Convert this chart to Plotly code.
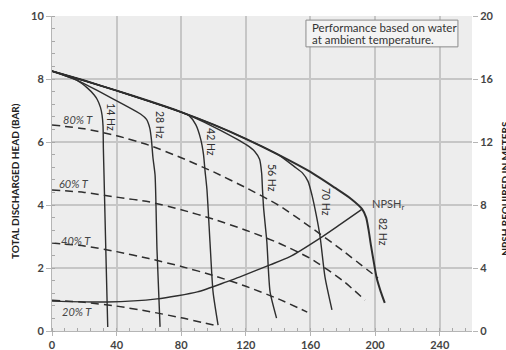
import plotly.graph_objects as go

# Flow (x) / head in bar (y) for each drive frequency
hz14_x = [0, 16, 22, 26, 28, 30, 31, 31.6, 31.8, 32.2, 33.3, 34.5]
hz14_y = [8.25, 7.94, 7.71, 7.5, 7.35, 7.1, 6.85, 6.5, 5.8, 4.95, 2.6, 0.13]

hz28_x = [0, 16, 30, 45, 55, 58.5, 60.5, 61.5, 62.5, 63.8, 65, 66.9]
hz28_y = [8.25, 7.95, 7.58, 7.17, 6.88, 6.72, 6.45, 6.1, 5.5, 4.95, 2.57, 0.13]

hz42_x = [0, 20, 40, 60, 80, 85, 89, 92, 93.8, 94.7, 95.9, 97.8, 99.7, 102.8]
hz42_y = [8.25, 7.95, 7.63, 7.3, 6.95, 6.83, 6.55, 6.1, 5.6, 5.1, 4.5, 2.83, 1.24, 0.19]

hz56_x = [0, 20, 40, 60, 80, 85.4, 104, 120.7, 125.5, 128.5, 129.8, 130.3, 131, 133, 135, 139]
hz56_y = [8.25, 7.95, 7.63, 7.3, 6.95, 6.84, 6.38, 5.9, 5.7, 5.45, 5.0, 4.5, 3.9, 2.83, 1.24, 0.41]

hz70_x = [0, 20, 40, 60, 80, 100, 120, 140, 150, 155, 158.5, 161, 163.5, 166, 169, 173.3]
hz70_y = [8.25, 7.95, 7.63, 7.3, 6.95, 6.55, 6.1, 5.6, 5.22, 5.02, 4.75, 4.3, 3.7, 2.98, 1.71, 0.67]

hz82_x = [0, 20, 40, 60, 80, 100, 120, 140, 160, 175, 185, 192, 194.5, 196, 197.5, 199.5, 201, 203.5, 206]
hz82_y = [8.25, 7.95, 7.63, 7.3, 6.95, 6.55, 6.1, 5.6, 5.05, 4.55, 4.2, 3.87, 3.6, 3.2, 2.7, 2.1, 1.68, 1.25, 0.89]

# Constant-torque lines (% of rated torque)
t80_x = [0, 20, 40, 60, 80, 100, 120, 140, 160, 180, 201.8]
t80_y = [6.54, 6.42, 6.2, 5.9, 5.5, 5.05, 4.55, 4.0, 3.3, 2.55, 1.68]

t60_x = [0, 20, 40, 60, 80, 100, 120, 140, 160, 180, 193.8]
t60_y = [4.48, 4.4, 4.25, 4.1, 3.85, 3.55, 3.2, 2.8, 2.3, 1.6, 0.98]

t40_x = [0, 20, 40, 60, 80, 100, 120, 140, 158]
t40_y = [2.79, 2.7, 2.52, 2.3, 2.05, 1.76, 1.42, 1.02, 0.6]

t20_x = [0, 20, 40, 60, 80, 100]
t20_y = [0.98, 0.91, 0.79, 0.62, 0.42, 0.19]

# NPSH required, metres (right axis)
npsh_x = [0, 34, 65, 90, 108, 116, 135, 147, 166, 178, 192]
npsh_m = [1.9, 1.84, 2.04, 2.48, 3.12, 3.42, 4.2, 4.7, 5.9, 6.74, 7.74]

x_ticks = [0, 40, 80, 120, 160, 200, 240]
y_ticks = [0, 2, 4, 6, 8, 10]
y2_ticks = [0, 4, 8, 12, 16, 20]

note_lines = ["Performance based on water", "at ambient temperature."]

INK = "#2e2e2e"
FONT = "Lato"

fig = go.Figure()

hz_curves = [
    (hz14_x, hz14_y, 1.4), (hz28_x, hz28_y, 1.4), (hz42_x, hz42_y, 1.4),
    (hz56_x, hz56_y, 1.4), (hz70_x, hz70_y, 1.4), (hz82_x, hz82_y, 2.0),
]
for cx, cy, w in hz_curves:
    fig.add_trace(go.Scatter(x=cx, y=cy, mode="lines",
                             line=dict(color=INK, width=w, shape="spline", smoothing=0.6),
                             hoverinfo="skip", showlegend=False))

for cx, cy in [(t80_x, t80_y), (t60_x, t60_y), (t40_x, t40_y), (t20_x, t20_y)]:
    fig.add_trace(go.Scatter(x=cx, y=cy, mode="lines",
                             line=dict(color=INK, width=1.5, dash="8px,5px",
                                       shape="spline", smoothing=0.6),
                             hoverinfo="skip", showlegend=False))

fig.add_trace(go.Scatter(x=npsh_x, y=npsh_m, yaxis="y2", mode="lines",
                         line=dict(color=INK, width=1.4, shape="spline", smoothing=0.6),
                         hoverinfo="skip", showlegend=False))

annotations = []
# frequency labels, rotated
hz_labels = [("14 Hz", 36.5, 6.79), ("28 Hz", 66.9, 6.54), ("42 Hz", 98.4, 6.0),
             ("56 Hz", 136.2, 4.86), ("70 Hz", 169.6, 4.1), ("82 Hz", 205.0, 3.14)]
for txt, lx, ly in hz_labels:
    annotations.append(dict(x=lx, y=ly, text=txt, showarrow=False, textangle=90,
                            font=dict(family=FONT, size=10.5, color=INK)))

t_labels = [("80% T", 16, 6.7), ("60% T", 13.6, 4.67), ("40% T", 14.9, 2.86), ("20% T", 15.5, 0.63)]
for txt, lx, ly in t_labels:
    annotations.append(dict(x=lx, y=ly, text="<i>" + txt + "</i>", showarrow=False,
                            font=dict(family=FONT, size=11, color="#444")))

annotations.append(dict(x=196.8, y=4.03, xanchor="left", text="NPSH<sub>r</sub>",
                        showarrow=False, font=dict(family=FONT, size=11, color="#444")))

# note box: frame drawn as a shape, two text lines inside
for line_txt, ly in zip(note_lines, [9.63, 9.25]):
    annotations.append(dict(x=160.0, y=ly, xanchor="left", text=line_txt, showarrow=False,
                            font=dict(family=FONT, size=11.5, color="#333")))

annotations.append(dict(xref="paper", yref="paper", x=-0.088, y=0.476, xanchor="center",
                        text="<b>TOTAL DISCHARGED HEAD (BAR)</b>", textangle=-90,
                        showarrow=False, font=dict(family=FONT, size=10, color="#222")))
annotations.append(dict(xref="paper", yref="paper", x=1.078, y=0.454, xanchor="center",
                        text="<b>NPSH REQUIRED IN METERS</b>", textangle=-90,
                        showarrow=False, font=dict(family=FONT, size=10, color="#222")))

fig.add_shape(type="rect", x0=157.2, x1=251.3, y0=9.02, y1=9.87,
              line=dict(color="#8c8c8c", width=1), fillcolor="#f3f3f3", layer="above")

tick_font = dict(family=FONT, size=11, color="#444", weight="bold")

fig.update_layout(
    width=506, height=350,
    margin=dict(l=52, r=34, t=16, b=19),
    paper_bgcolor="white", plot_bgcolor="#ededed",
    annotations=annotations,
    xaxis=dict(range=[0, 260], tickvals=x_ticks, showgrid=True, gridcolor="#c6c6c6",
               gridwidth=1.5, zeroline=False, showline=True, linecolor="#b5b5b5",
               ticks="outside", ticklen=4, tickcolor="#b5b5b5", automargin=False,
               tickfont=tick_font,
               minor=dict(dtick=8, ticks="inside", ticklen=3, tickcolor="#a8a8a8", showgrid=False)),
    yaxis=dict(range=[0, 10], tickvals=y_ticks, showgrid=True, gridcolor="#c6c6c6",
               gridwidth=1.5, zeroline=False, showline=True, linecolor="#b5b5b5",
               ticks="outside", ticklen=5, tickcolor="#b5b5b5", automargin=False,
               tickfont=tick_font,
               minor=dict(dtick=0.4, ticks="inside", ticklen=3, tickcolor="#a8a8a8", showgrid=False)),
    yaxis2=dict(range=[0, 20], tickvals=y2_ticks, overlaying="y", side="right",
                showgrid=False, zeroline=False, showline=False, automargin=False,
                ticks="outside", ticklen=5, tickcolor="#b5b5b5",
                tickfont=tick_font),
)

fig.write_html("out.html")
